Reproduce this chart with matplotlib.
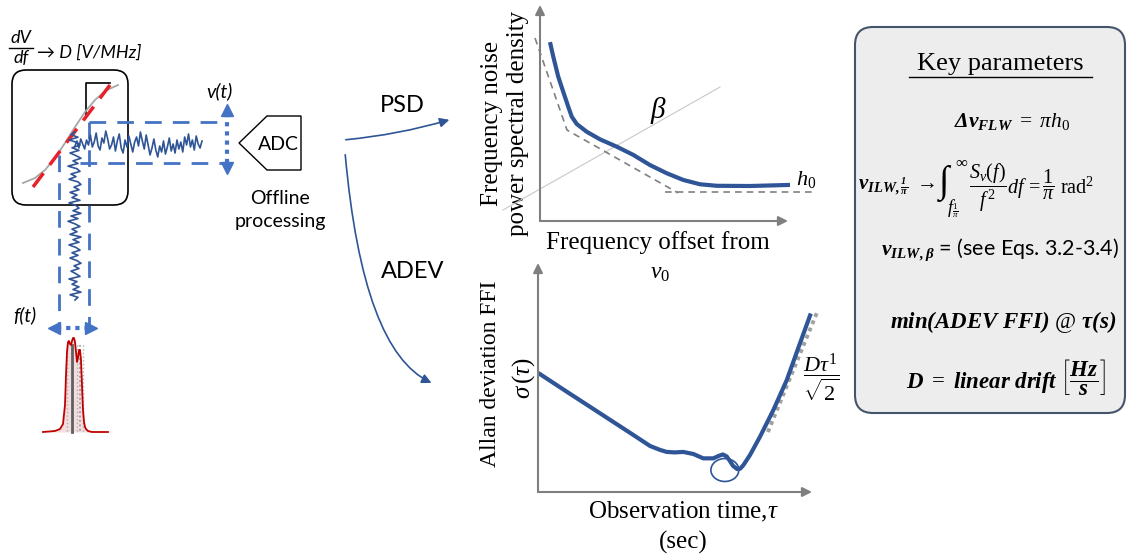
import numpy as np
import matplotlib
matplotlib.use("Agg")
import matplotlib.pyplot as plt
from matplotlib.patches import FancyBboxPatch, Polygon, FancyArrowPatch, Ellipse

plt.rcParams['mathtext.fontset'] = 'custom'
plt.rcParams['mathtext.rm'] = 'Liberation Serif'
plt.rcParams['mathtext.it'] = 'Liberation Serif:italic'
plt.rcParams['mathtext.bf'] = 'Liberation Serif:bold:italic'

SANS = ['Lato', 'DejaVu Sans']
SERIF = ['Liberation Serif', 'DejaVu Serif']

# ---------------- data ----------------
# PSD sketch (axis units 0..10)
psd_freq = [0.40, 0.53, 0.73, 0.93, 1.13, 1.27, 1.47, 1.87, 2.40, 3.07, 3.73,
            4.40, 5.07, 5.73, 6.40, 7.07, 8.40, 10.0]
psd_level = [8.28, 7.61, 6.68, 5.98, 5.29, 4.83, 4.49, 4.13, 3.78, 3.44, 3.06,
             2.59, 2.21, 1.90, 1.70, 1.63, 1.62, 1.67]
asym_x = [-0.2, 1.08, 5.52]
asym_y = [8.47, 4.21, 1.30]
floor_x = [5.0, 11.0]
floor_y = [1.34, 1.34]
beta_x = [-1.48, 7.2]
beta_y = [0.51, 6.2]

# ADEV sketch (axis units 0..10)
adev_tau = [0.07, 1.05, 2.26, 3.48, 4.09, 4.45, 4.70, 5.00, 5.30, 5.67, 6.03, 6.40,
            6.60, 6.75, 6.89, 7.00, 7.12, 7.27, 7.38, 7.50, 7.74, 8.10, 8.59, 9.08,
            9.56, 9.93]
adev_sigma = [5.15, 4.38, 3.44, 2.49, 2.01, 1.84, 1.75, 1.73, 1.75, 1.66, 1.47, 1.47,
              1.58, 1.64, 1.55, 1.36, 1.14, 1.00, 1.02, 1.18, 1.62, 2.41, 3.58, 4.89,
              6.49, 7.71]
drift_x = [8.39, 10.22]
drift_y = [2.62, 7.95]
loop_center = (6.82, 0.96)

# discriminator sketch (pixel units)
scurve_x = [23, 35, 45, 55, 65, 75, 85, 95, 105, 118]
scurve_y = [183, 178, 170, 158, 143, 127, 112, 100, 91, 85]
slope_x = [33, 110]
slope_y = [187, 85]

vt_noise = [3, -2, 5, -4, 1, 6, -3, 2, -8, 4, -1, -10, 3, 7, -5, 0, -12, -4, 6, 2,
            -6, 8, -2, -9, 5, 10, -3, 4, -7, 1, 9, -1, -6, 3, -11, -2, 6, -8, 2, 12,
            5, -4, 7, 14, 3, 9, -2, 11, 4, -5, 8, 1, 10, -3, 6, -1, 9, -6, 2, -9,
            4, -3, 7, -7, 1, 5, -2]
ft_noise = [0, -4, 3, -6, 2, 5, -3, 4, -5, 1, 6, -2, 3, -7, 2, 5, -4, 1, -6, 3,
            6, -1, 4, -5, 2, -3, 5, -6, 1, 4, -2, 6, -4, 3, -7, 0, 5, -3, 2, -5,
            6, -2, 4, -6, 1, 5, -3, 3, -5, 2, 6, -1, 4, -4, 1, 5, -6, 2, -3, 4,
            -2, 6, -5, 3, 0]

spec_x = [43, 55, 60, 63, 65, 66, 67, 68, 69, 70, 71, 72, 73, 74, 75, 76, 77, 78,
          79, 80, 81, 82, 83, 84, 85, 86, 88, 92, 100, 108]
spec_y = [432, 431, 429, 424, 405, 375, 352, 342, 341, 344, 345, 341, 338, 338,
          342, 352, 362, 358, 350, 350, 360, 385, 410, 422, 427, 429, 431, 432,
          432, 432]

W, H = 1127, 557
fig = plt.figure(figsize=(W / 100, H / 100), dpi=100)
ax = fig.add_axes([0, 0, 1, 1])
ax.set_xlim(0, W)
ax.set_ylim(H, 0)
ax.axis('off')

BLUE = '#2f5597'
DBLUE = '#4472c4'

# ---------------- left: discriminator ----------------
ax.add_patch(FancyBboxPatch((12, 70), 116, 135, boxstyle='round,pad=0,rounding_size=14',
                            fc='none', ec='black', lw=1.2))
ax.plot([86, 86, 110], [115, 83, 83], color='black', lw=1.2)
ax.plot(scurve_x, scurve_y, color='#a6a6a6', lw=1.3)
ax.plot(slope_x, slope_y, color='#e8202a', lw=2.5, dashes=(5, 3))

# dashed projection boxes
dk = dict(color=DBLUE, lw=2, dashes=(6, 4))
ax.plot([89, 89], [122, 325], **dk)
ax.plot([59, 59], [155, 325], **dk)
ax.plot([89, 222], [122, 122], **dk)
ax.plot([80, 222], [163, 163], **dk)

# noise traces
vx = np.linspace(75, 202, len(vt_noise))
ax.plot(vx, 143 + np.array(vt_noise), color=BLUE, lw=1.2)
fy = np.linspace(132, 300, len(ft_noise))
ax.plot(75 + np.array(ft_noise), fy, color=BLUE, lw=1.2)

# dotted double arrows
ax.plot([227, 227], [113, 165], color=DBLUE, lw=3, linestyle=(0, (1, 1.2)))
ax.plot([227], [110], marker='^', color=DBLUE, ms=8)
ax.plot([227], [168], marker='v', color=DBLUE, ms=8)
ax.plot([57, 88], [328, 328], color=DBLUE, lw=3, linestyle=(0, (1, 1.2)))
ax.plot([54], [328], marker='<', color=DBLUE, ms=8)
ax.plot([91], [328], marker='>', color=DBLUE, ms=8)

# spectrum
ax.fill_between(spec_x, spec_y, 432, color='#f2dede', lw=0)
for xx, c, ls, lw in [(67, '#b0b0b0', ':', 1), (72, '#606060', '-', 2),
                      (77, '#b0b0b0', ':', 1), (80, '#909090', ':', 1.2), (83, '#b0b0b0', ':', 1)]:
    ax.plot([xx, xx], [345, 432], color=c, ls=ls, lw=lw)
ax.plot(spec_x, spec_y, color='#c00000', lw=1.3)

# labels
ax.text(21, 38, 'dV', fontsize=13, style='italic', family=SANS, ha='center', va='center')
ax.plot([9, 33], [48, 48], color='black', lw=1)
ax.text(21, 58, 'df', fontsize=13, style='italic', family=SANS, ha='center', va='center')
ax.text(37, 53, '→ D [V/MHz]', fontsize=13, style='italic', family=SANS, ha='left', va='center')
ax.text(219, 91, 'v(t)', fontsize=14, style='italic', family=SANS, ha='center', va='center')
ax.text(25, 315, 'f(t)', fontsize=14, style='italic', family=SANS, ha='center', va='center')

# ADC
ax.add_patch(Polygon([(239, 143), (267, 116), (301, 116), (301, 170), (267, 170)],
                     closed=True, fc='white', ec='black', lw=1))
ax.text(278, 144, 'ADC', fontsize=14, family=SANS, ha='center', va='center')
ax.text(280, 210, 'Offline\nprocessing', fontsize=14, family=SANS, ha='center',
        va='center', linespacing=1.45)

# flow arrows
ax.add_patch(FancyArrowPatch((343, 140), (452, 119), connectionstyle='arc3,rad=0.05',
                             arrowstyle='-|>', mutation_scale=14, color=BLUE, lw=1.2))
ax.add_patch(FancyArrowPatch((345, 152), (434, 384), connectionstyle='angle3,angleA=-85,angleB=-23',
                             arrowstyle='-|>', mutation_scale=14, color=BLUE, lw=1.2))
ax.text(402, 105, 'PSD', fontsize=17, family=SANS, ha='center', va='center')
ax.text(413, 272, 'ADEV', fontsize=17, family=SANS, ha='center', va='center')

# ---------------- PSD sketch ----------------
def inset(x0, x1, y0, y1):
    a = fig.add_axes([x0 / W, (H - y1) / H, (x1 - x0) / W, (y1 - y0) / H])
    a.patch.set_alpha(0)
    a.axis('off')
    return a

GREY = '#7f7f7f'
axp = inset(490, 830, 0, 230)
axp.set_xlim(-2, 11.6)
axp.set_ylim(-0.4167, 10.23)
for xy in [(9.92, 0), (0, 10)]:
    axp.annotate('', xy=xy, xytext=(0, 0), annotation_clip=False,
                 arrowprops=dict(arrowstyle='-|>', color=GREY, lw=1.5, mutation_scale=14,
                                 shrinkA=0, shrinkB=0))
axp.plot(beta_x, beta_y, color='#c8c8c8', lw=0.8, clip_on=False)
axp.plot(asym_x, asym_y, color='#808080', lw=1.2, dashes=(4, 3), clip_on=False)
axp.plot(floor_x, floor_y, color='#808080', lw=1.2, dashes=(4, 3), clip_on=False)
axp.plot(psd_freq, psd_level, color=BLUE, lw=3, solid_capstyle='butt', clip_on=False)

ax.text(658, 110, r'$\beta$', fontsize=21, ha='center', va='center')
ax.text(806, 180, r'$h_0$', fontsize=16, ha='center', va='center')
ax.text(505, 123, 'Frequency noise\npower spectral density', fontsize=18, family=SERIF,
        rotation=90, ha='center', va='center', linespacing=1.2)
ax.text(658, 243, 'Frequency offset from', fontsize=18, family=SERIF, ha='center', va='center')
ax.text(660, 272, r'$\nu_0$', fontsize=17, ha='center', va='center')

# ---------------- ADEV sketch ----------------
axa = inset(480, 840, 250, 500)
axa.set_xlim(-2.117, 11.022)
axa.set_ylim(-0.349, 10.568)
for xy in [(10, 0), (0, 10)]:
    axa.annotate('', xy=xy, xytext=(0, 0), annotation_clip=False,
                 arrowprops=dict(arrowstyle='-|>', color=GREY, lw=1.5, mutation_scale=14,
                                 shrinkA=0, shrinkB=0))
axa.plot(drift_x, drift_y, color='#a0a0a0', lw=2.8, linestyle=(0, (1, 1)), clip_on=False)
axa.plot(adev_tau, adev_sigma, color=BLUE, lw=3, clip_on=False, solid_joinstyle='round')
axa.add_patch(Ellipse(loop_center, 1.02, 1.0, fc='none', ec=BLUE, lw=1.2, clip_on=False))

ax.text(491, 374, 'Allan deviation FFI', fontsize=17, family=SERIF, rotation=90,
        ha='center', va='center')
ax.text(524, 378, r'$\sigma\,(\tau)$', fontsize=18, rotation=90, ha='center', va='center')
ax.text(683, 512, r'Observation time,$\tau$', fontsize=18, family=SERIF, ha='center', va='center')
ax.text(683, 542, '(sec)', fontsize=18, family=SERIF, ha='center', va='center')
ax.text(821, 378, r'$\dfrac{D\tau^1}{\sqrt{2}}$', fontsize=16, ha='center', va='center')

# ---------------- key parameters ----------------
ax.add_patch(FancyBboxPatch((855, 27), 270, 386, boxstyle='round,pad=0,rounding_size=18',
                            fc='#ededed', ec='#44546a', lw=1.5))
ax.text(1000, 70, 'Key parameters', fontsize=19, family=SERIF, ha='center', va='baseline')
ax.plot([909, 1092], [77, 77], color='black', lw=1)
ax.text(1012, 122, r'$\mathbf{\Delta\nu_{FLW}}\ =\ \pi h_0$', fontsize=15.5, ha='center', va='center')

# integral line, assembled from pieces
ax.text(858, 187, r'$\mathbf{\nu}_{\mathbf{ILW,\frac{1}{\pi}}}\ \rightarrow$', fontsize=15,
        ha='left', va='center')
ax.text(939, 184, '∫', fontsize=27, family=SERIF, ha='left', va='center')
ax.text(955, 161, r'$\infty$', fontsize=12, ha='left', va='center')
ax.text(947, 209, r'$f_{\frac{1}{\pi}}$', fontsize=13, ha='left', va='center')
ax.text(969, 188, r'$\dfrac{S_{\nu}(f)}{f^{\,2}}df\, =\dfrac{1}{\pi}\ \mathrm{rad}^2$', fontsize=14.5,
        ha='left', va='center')

ax.text(1000, 250, r'$\mathbf{\nu}_{\mathbf{ILW,\beta}}$ = (see Eqs. 3.2-3.4)', fontsize=15.5,
        family=SANS, ha='center', va='center')
ax.text(1003, 322, r'$\mathbf{min(ADEV\ FFI)}\ @\ \mathbf{\tau(s)}$', fontsize=16.5,
        ha='center', va='center')
ax.text(1006, 377, r'$\mathbf{D}\ =\ \mathbf{linear\ drift}\ \left[\dfrac{\mathbf{Hz}}{\mathbf{s}}\right]$',
        fontsize=16.5, ha='center', va='center')

fig.savefig('out.png', dpi=100)
